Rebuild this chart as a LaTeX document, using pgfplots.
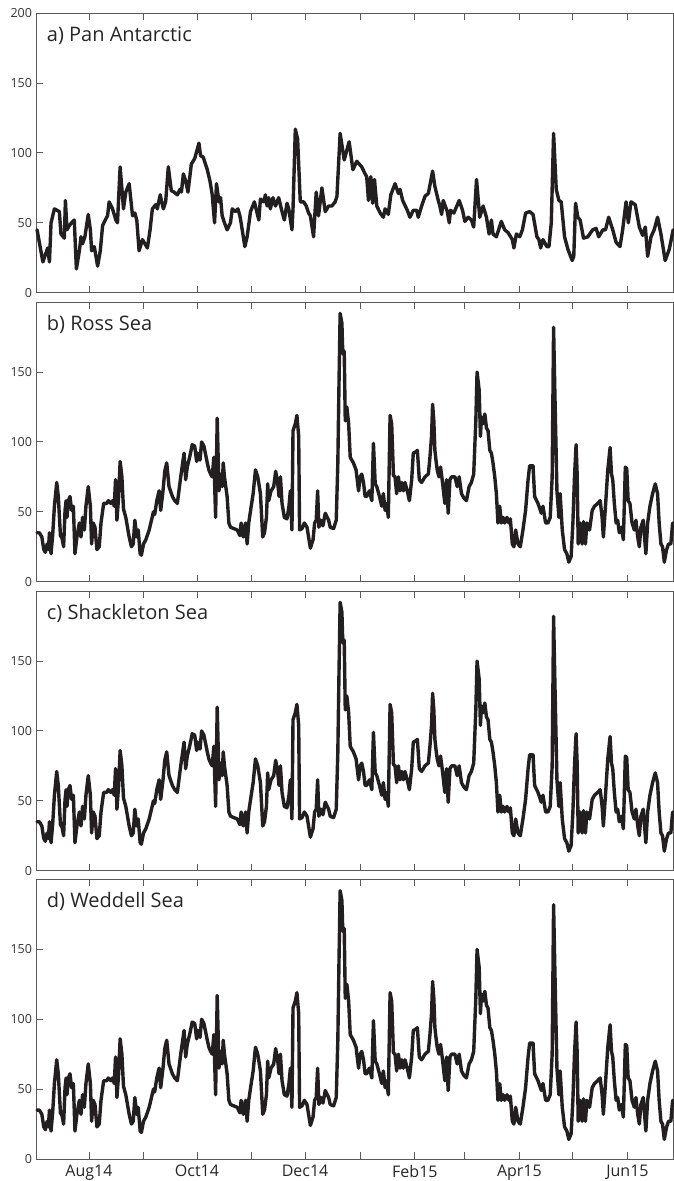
\documentclass[border=0pt]{standalone}
\usepackage{fontspec}
\setmainfont{Open Sans}
\usepackage{pgfplots}
\usepackage{pgfplotstable}
\pgfplotsset{compat=1.18}
\definecolor{trace}{HTML}{231F20}
\definecolor{frame}{HTML}{5A5A5A}

% days since 1 Aug 2014, ice-related event count
\pgfplotstableread{
day val
-29.3 45
-26.0 22
-23.3 32
-22.3 22
-21.4 50
-19.5 60
-16.7 58
-15.8 42
-13.9 39
-13.3 66
-12.4 45
-11.1 48
-9.8 50
-8.3 52
-7.1 17
-5.4 30
-4.5 40
-3.6 35
-2.3 40
-0.4 56
0.8 45
1.5 30
3.0 33
4.9 19
6.4 30
7.7 48
9.6 53
10.5 55
11.4 65
13.3 60
15.2 52
16.1 50
17.6 90
19.5 60
20.8 72
22.7 78
24.6 55
25.9 57
27.0 52
28.3 30
30.2 38
33.0 32
34.5 45
35.8 60
37.7 63
38.6 60
40.2 70
42.0 60
43.3 65
44.8 90
46.5 73
48.0 72
49.9 70
51.4 74
52.2 72
53.3 85
54.6 80
55.9 72
57.8 92
59.7 96
62.1 107
63.0 98
64.5 97
66.8 88
68.3 80
69.6 70
70.9 50
72.0 78
73.4 65
74.3 68
75.2 55
76.5 50
78.0 45
79.9 50
80.9 60
82.7 58
84.1 60
85.2 55
85.9 50
88.0 33
89.3 40
91.2 58
93.4 65
95.3 55
95.9 52
96.8 67
98.7 65
99.6 70
100.6 62
101.5 68
102.4 60
103.9 68
105.3 62
107.1 68
109.0 58
110.3 52
111.8 64
112.8 60
114.6 45
115.2 60
116.5 117
117.8 110
119.3 65
121.2 65
122.7 62
124.0 57
125.0 55
126.8 40
128.3 72
129.6 55
131.5 75
133.4 58
135.3 62
137.1 62
139.0 65
140.0 69
141.8 114
144.1 95
146.9 108
149.0 88
151.2 94
154.0 90
155.9 85
156.8 83
157.8 66
159.1 83
160.2 64
161.2 81
162.5 62
164.4 57
166.2 54
167.2 60
169.0 56
170.4 70
172.8 78
174.7 71
175.6 74
177.1 66
179.7 59
181.2 54
183.1 59
185.0 59
185.9 54
187.8 62
189.7 69
191.6 71
194.0 87
195.3 76
197.2 66
198.1 62
199.1 56
200.0 66
202.3 58
203.4 50
204.1 59
206.0 57
209.0 66
210.9 59
212.2 51
214.1 54
215.9 52
217.2 47
218.8 81
220.6 54
222.5 62
224.4 54
225.9 42
227.2 52
228.1 42
230.0 40
232.8 51
234.7 45
236.6 43
239.0 38
239.9 32
241.3 42
243.2 40
244.7 45
246.5 57
248.8 58
250.7 56
252.9 40
254.0 38
255.0 32
256.3 38
258.5 33
259.7 33
261.0 50
262.3 114
263.8 74
265.3 66
266.6 65
268.5 40
270.4 31
272.8 23
273.7 26
274.7 64
276.0 54
277.3 52
279.2 39
281.6 40
284.4 45
286.3 46
287.8 40
290.1 45
291.6 45
293.4 54
295.7 45
297.6 36
299.8 33
301.3 45
303.2 65
304.5 50
306.0 65
308.4 63
310.7 47
312.6 41
314.1 47
315.4 26
317.3 40
319.1 45
321.0 54
322.9 42
325.3 23
327.6 31
329.8 45
}\panA

\pgfplotstableread{
day val
-29.3 35
-28.0 35
-26.6 32
-25.5 23
-24.6 21
-23.6 27
-22.9 23
-22.3 35
-21.4 20
-20.5 33
-19.5 54
-18.2 71
-17.3 61
-16.1 33
-15.2 31
-14.3 25
-13.5 51
-12.9 58
-12.4 46
-11.6 58
-10.7 61
-9.8 51
-8.8 54
-7.9 20
-6.8 32
-5.4 42
-4.5 32
-3.6 46
-2.6 37
-1.7 54
-0.4 68
0.8 54
1.5 27
2.4 42
3.4 39
4.5 23
5.8 25
6.8 42
8.3 56
10.1 56
10.9 58
12.4 56
13.3 58
14.3 54
15.0 73
15.8 44
16.7 60
17.6 86
18.6 75
19.5 52
20.8 46
22.7 32
24.0 25
25.0 27
25.9 44
27.0 32
27.8 37
28.9 20
29.6 19
30.8 27
32.1 30
34.0 37
35.3 44
36.4 50
37.1 48
38.3 58
39.6 65
40.5 51
41.8 65
42.8 79
43.9 85
45.2 68
47.1 61
48.4 58
49.9 56
51.8 75
53.7 92
54.6 73
55.5 82
57.0 90
58.3 98
59.7 97
60.8 86
61.5 92
62.7 87
63.6 100
64.9 97
66.8 85
67.7 80
68.7 77
69.6 75
70.5 89
71.5 46
72.4 117
73.4 65
74.3 77
75.2 68
75.8 85
76.5 75
78.0 61
79.0 42
79.9 39
81.8 38
83.7 37
85.2 33
85.9 42
87.1 32
88.4 42
89.3 27
90.2 42
91.6 54
92.7 63
94.0 80
95.3 75
96.8 63
98.1 32
99.1 35
100.2 46
100.9 70
101.5 58
102.8 65
104.3 68
105.4 79
106.6 70
107.3 61
108.1 75
109.0 56
110.3 46
111.8 45
112.9 54
113.7 65
114.6 37
115.2 108
116.5 113
117.4 119
118.4 104
118.9 37
120.3 38
121.6 42
123.1 39
125.0 24
126.5 30
127.4 42
128.3 44
129.1 65
129.8 39
131.0 44
132.1 40
133.4 49
135.3 44
136.2 39
138.1 38
139.6 44
140.5 85
141.1 137
141.8 192
142.8 185
143.3 163
144.1 165
144.7 115
145.6 125
146.6 113
147.5 89
148.4 87
149.3 85
150.8 80
152.2 65
153.1 75
154.0 77
155.0 71
155.9 61
156.8 61
158.3 65
159.7 58
160.6 99
161.6 70
162.5 68
164.0 61
165.3 54
166.2 63
167.2 51
168.1 56
169.0 46
170.0 119
170.9 113
171.9 76
172.8 75
173.7 63
174.7 75
175.6 65
176.6 71
177.5 65
178.4 71
179.7 65
180.9 58
182.2 73
183.1 92
184.6 93
185.4 94
186.5 73
187.8 71
189.7 75
190.6 76
191.6 77
192.5 89
193.4 104
194.0 127
194.7 115
195.3 94
195.9 87
196.6 80
197.6 75
198.5 82
199.6 71
200.9 56
201.9 73
202.8 49
203.8 73
204.7 75
206.6 75
207.9 68
209.0 75
210.3 63
211.6 60
213.1 58
214.6 68
215.9 71
217.2 77
218.4 115
219.1 150
220.3 137
221.0 104
221.6 118
222.5 113
223.5 120
224.4 110
225.3 108
226.3 94
227.2 92
228.1 85
229.1 75
230.0 63
230.9 42
231.9 54
232.8 42
233.8 46
234.7 42
236.0 46
237.1 42
237.9 45
239.0 27
239.9 25
240.9 37
242.2 27
243.5 25
245.0 37
246.5 51
247.9 73
248.8 83
250.7 83
251.6 61
253.5 56
255.4 49
256.3 54
257.8 42
259.1 42
260.4 46
261.5 75
262.3 182
263.0 137
264.2 65
265.3 46
266.0 63
267.2 37
268.5 23
269.8 20
270.9 14
272.2 18
273.2 42
274.1 75
275.0 98
275.6 77
276.2 27
277.3 42
278.4 27
279.2 43
280.3 27
281.1 42
282.6 37
284.1 51
285.4 54
287.2 56
288.6 58
289.7 46
290.4 32
291.6 54
292.9 80
294.2 96
295.0 77
295.7 73
296.6 56
297.6 42
298.5 44
299.4 35
300.6 39
301.7 30
302.8 82
303.6 81
304.4 58
305.4 56
306.6 42
307.9 37
308.8 44
309.8 32
310.7 25
311.6 39
312.9 44
314.4 20
315.4 42
316.7 54
318.2 63
319.7 70
321.0 63
321.9 42
322.9 27
323.8 25
324.8 14
326.1 23
327.2 27
328.5 27
329.5 42
}\panB

\pgfplotsset{
  panel/.style={
    scale only axis, width=636.8pt, height=279.5pt,
    anchor=south west,
    xmin=-29.5, xmax=330, ymin=0, ymax=200,
    xtick={0,31,61,92,122,153,184,212,243,273,304},
    xticklabels={},
    xtick pos=both, ytick pos=left,
    tick align=inside,
    major tick length=6.5pt,
    axis line style={frame, line width=0.9pt},
    every tick/.style={frame, line width=0.9pt},
    /pgf/number format/assume math mode=true,
    yticklabel style={font=\fontsize{12.5}{14}\selectfont, text=black!80, inner sep=0pt, xshift=-4.5pt},
    xticklabel style={font=\fontsize{16}{18}\selectfont, text=black!85, inner sep=0pt, yshift=-6pt},
    clip=false,
  },
}
\tikzset{
  ttl/.style={anchor=base west, inner sep=0pt, font=\fontsize{20}{24}\selectfont, text=black!85, xshift=10pt, yshift=-28pt},
  trc/.style={color=trace, line width=3.4pt, line join=round, line cap=round},
}

\begin{document}
\begin{tikzpicture}
\path[use as bounding box] (0,0) rectangle (674pt,1181pt);

\begin{axis}[panel, at={(36.7pt,888.3pt)}, ytick={0,50,100,150,200}]
  \addplot[trc] table[x=day,y=val] {\panA};
  \node[ttl] at (rel axis cs:0,1) {a) Pan Antarctic};
\end{axis}

\begin{axis}[panel, at={(36.7pt,599.3pt)}, ytick={0,50,100,150}]
  \addplot[trc] table[x=day,y=val] {\panB};
  \node[ttl] at (rel axis cs:0,1) {b) Ross Sea};
\end{axis}

\begin{axis}[panel, at={(36.7pt,310.3pt)}, ytick={0,50,100,150}]
  \addplot[trc] table[x=day,y=val] {\panB};
  \node[ttl] at (rel axis cs:0,1) {c) Shackleton Sea};
\end{axis}

\begin{axis}[panel, at={(36.7pt,22pt)}, ytick={0,50,100,150},
  xticklabels={Aug14,,Oct14,,Dec14,,Feb15,,Apr15,,Jun15}]
  \addplot[trc] table[x=day,y=val] {\panB};
  \node[ttl] at (rel axis cs:0,1) {d) Weddell Sea};
\end{axis}
\end{tikzpicture}
\end{document}
